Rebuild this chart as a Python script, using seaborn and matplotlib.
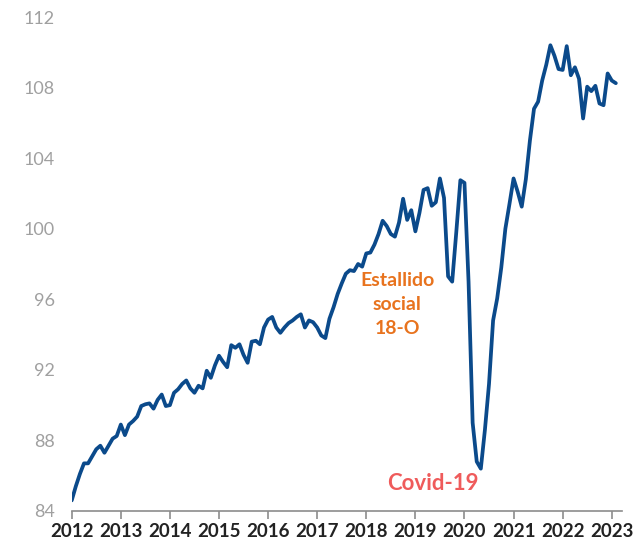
import pandas as pd
import matplotlib.pyplot as plt
import seaborn as sns

# Monthly index, Jan 2012 - Feb 2023
y2012 = [84.6, 85.4, 86.1, 86.7, 86.7, 87.1, 87.5, 87.7, 87.3, 87.7, 88.1, 88.25]
y2013 = [88.9, 88.3, 88.9, 89.1, 89.35, 89.95, 90.05, 90.1, 89.8, 90.3, 90.6, 89.95]
y2014 = [90.0, 90.7, 90.9, 91.2, 91.4, 90.95, 90.7, 91.1, 90.95, 91.95, 91.55, 92.25]
y2015 = [92.8, 92.45, 92.15, 93.4, 93.25, 93.45, 92.85, 92.4, 93.6, 93.65, 93.45, 94.4]
y2016 = [94.85, 95.0, 94.4, 94.1, 94.4, 94.65, 94.8, 95.0, 95.15, 94.4, 94.8, 94.7]
y2017 = [94.4, 93.95, 93.8, 94.9, 95.55, 96.3, 96.9, 97.45, 97.65, 97.6, 98.0, 97.85]
y2018 = [98.6, 98.65, 99.1, 99.7, 100.45, 100.15, 99.7, 99.55, 100.35, 101.7, 100.5, 101.05]
y2019 = [99.85, 100.9, 102.2, 102.3, 101.3, 101.5, 102.85, 101.75, 97.3, 97.0, 99.8, 102.75]
y2020 = [102.6, 97.0, 89.0, 86.8, 86.4, 88.6, 91.2, 94.8, 96.05, 97.8, 100.0, 101.4]
y2021 = [102.85, 102.1, 101.25, 102.8, 105.0, 106.8, 107.2, 108.4, 109.3, 110.4, 109.8, 109.05]
y2022 = [109.0, 110.35, 108.7, 109.15, 108.5, 106.25, 108.05, 107.8, 108.1, 107.1, 107.0, 108.8]
y2023 = [108.4, 108.25]

values = y2012 + y2013 + y2014 + y2015 + y2016 + y2017 + y2018 + y2019 + y2020 + y2021 + y2022 + y2023
years = list(range(2012, 2024))
yticks = [84, 88, 92, 96, 100, 104, 108, 112]

df = pd.DataFrame({"t": [2012 + i / 12 for i in range(len(values))], "indice": values})

sns.set_theme(style="white")
plt.rcParams["font.family"] = ["Lato", "DejaVu Sans"]

fig = plt.figure(figsize=(6.33, 5.42), dpi=100)
ax = fig.add_axes([0.1133, 0.0572, 0.8694, 0.9114])

sns.lineplot(data=df, x="t", y="indice", ax=ax, color="#0b4a8b", linewidth=2.7)

ax.set_xlim(2012, 2023.21)
ax.set_ylim(84, 112)
ax.set_xticks(years)
ax.set_xticklabels([str(y) for y in years], fontsize=13.5, fontweight="bold", color="#222222")
ax.set_yticks(yticks)
ax.set_yticklabels([str(v) for v in yticks], fontsize=13, color="#a0a0a0", fontweight="normal")
ax.set_xlabel("")
ax.set_ylabel("")

for s in ["top", "right", "left"]:
    ax.spines[s].set_visible(False)
ax.spines["bottom"].set_color("#8c8c8c")
ax.spines["bottom"].set_linewidth(1.2)
ax.tick_params(axis="x", bottom=True, length=6, width=1.2, color="#8c8c8c", pad=3)
ax.tick_params(axis="y", left=False, length=0, pad=12)

ax.text(2018.63, 95.7, "Estallido\nsocial\n18-O", ha="center", va="center",
        fontsize=14, fontweight="bold", color="#e8731e", linespacing=1.5)
ax.text(2019.35, 85.55, "Covid-19", ha="center", va="center",
        fontsize=16, fontweight="bold", color="#ef5b5b")

fig.savefig("out.png", dpi=100)
